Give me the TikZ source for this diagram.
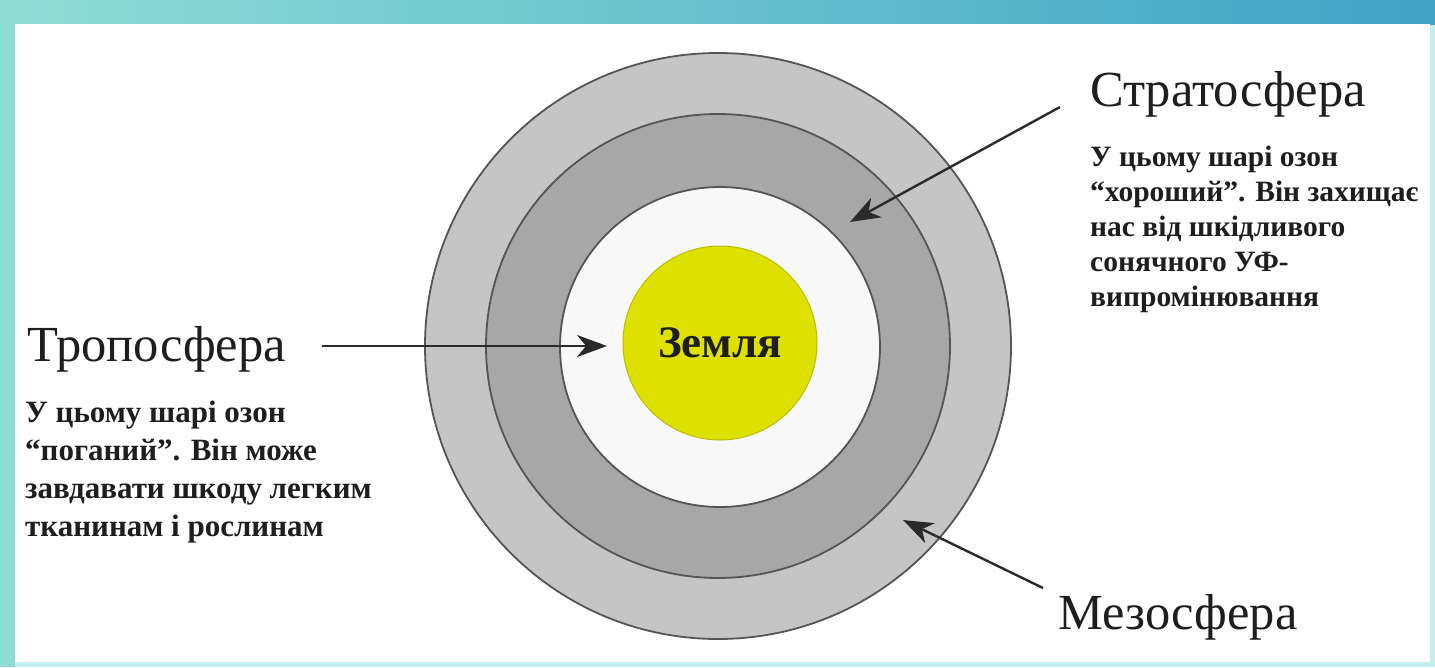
\documentclass[tikz,border=0pt]{standalone}
\usepackage{fontspec}
\setmainfont{Liberation Serif}
\usetikzlibrary{arrows.meta}
\definecolor{ringA}{HTML}{C5C5C5}
\definecolor{ringB}{HTML}{A7A7A7}
\definecolor{ringC}{HTML}{F8F8F8}
\definecolor{earth}{HTML}{DEE000}
\definecolor{edgec}{HTML}{555555}
\definecolor{arrowc}{HTML}{2A2A2A}
\definecolor{frameL}{HTML}{8EDDD4}
\definecolor{frameR}{HTML}{3FA3C6}
\definecolor{frameLight}{HTML}{C4EFEF}
\definecolor{txt}{HTML}{1E1E1E}
\begin{document}
\begin{tikzpicture}[x=1pt,y=-1pt,
  ring/.style={circle, draw=edgec, line width=1.8pt, inner sep=0pt},
  arr/.style={draw=arrowc, line width=2.4pt, -{Stealth[length=30pt,width=22pt,inset=9pt]}},
  heading/.style={anchor=base west, inner sep=0pt, text=txt, font=\fontsize{50.5}{54}\selectfont},
  para/.style={anchor=north west, inner sep=0pt, align=left, text=txt}
]
\useasboundingbox (0,0) rectangle (1435,667);
% frame
\fill[frameLight] (0,0) rectangle (1435,667);
\shade[left color=frameL, right color=frameR] (0,0) rectangle (1435,24);
\fill[frameL] (0,24) rectangle (15,667);
\fill[white] (15,24) rectangle (1430,662);
% rings
\node[ring, fill=ringA, minimum size=586pt] (meso) at (718,346) {};
\node[ring, fill=ringB, minimum size=464pt] (strato) at (718,346) {};
\node[ring, fill=ringC, minimum size=320pt] (tropo) at (720,347) {};
\node[circle, inner sep=0pt, draw=earth!85!black, line width=1pt, fill=earth, minimum size=194pt,
      font=\bfseries\fontsize{45}{48}\selectfont, text=txt] (earthn) at (720,343) {Земля};
% labels
\node[heading] (tropoL) at (27,361) {Тропосфера};
\node[heading] (stratoL) at (1090,106) {Стратосфера};
\node[heading] (mesoL) at (1058,629) {Мезосфера};
\node[para, font=\bfseries\fontsize{31}{38}\selectfont] (tropoT) at (25,401)
  {У цьому шарі озон\\“поганий”. Він може\\завдавати шкоду легким\\тканинам і рослинам};
\node[para, font=\bfseries\fontsize{29.5}{35}\selectfont] (stratoT) at (1090,146)
  {У цьому шарі озон\\“хороший”. Він захищає\\нас від шкідливого\\сонячного УФ-\\випромінювання};
% arrows
\coordinate (ta) at (322,346);
\coordinate (tb) at (607,346);
\coordinate (sa) at (1060,107);
\coordinate (sb) at (850,222);
\coordinate (ma) at (1043,588);
\coordinate (mb) at (903,520);
\draw[arr] (ta) -- (tb);
\draw[arr] (sa) -- (sb);
\draw[arr] (ma) -- (mb);
\end{tikzpicture}
\end{document}
